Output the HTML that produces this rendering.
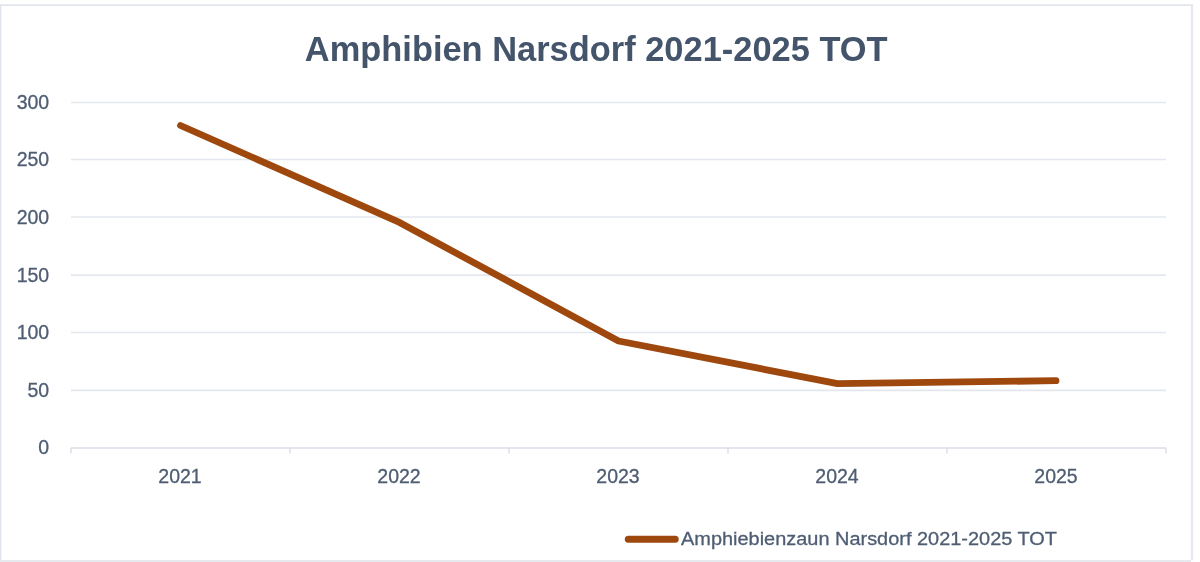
<!DOCTYPE html>
<html>
<head>
<meta charset="utf-8">
<style>
html,body{margin:0;padding:0;background:#fff;}
body{width:1200px;height:562px;overflow:hidden;}
svg{display:block;will-change:transform;}
text{font-family:"Liberation Sans",sans-serif;}
</style>
</head>
<body>
<svg width="1200" height="562" viewBox="0 0 1200 562">
  <rect x="0" y="0" width="1200" height="562" fill="#ffffff"/>
  <!-- chart border -->
  <g fill="none">
    <line x1="0" y1="5.1" x2="1193" y2="5.1" stroke="#e2e6ec" stroke-width="1.9"/>
    <line x1="0.6" y1="4.5" x2="0.6" y2="562" stroke="#dfe3ea" stroke-width="1.6"/>
    <line x1="1192" y1="4.5" x2="1192" y2="560.5" stroke="#e5e8ee" stroke-width="2.2"/>
    <line x1="0" y1="561" x2="1191" y2="561" stroke="#e6e9ee" stroke-width="2"/>
  </g>

  <!-- title -->
  <text x="304.8" y="61.3" font-size="35" font-weight="bold" fill="#44546a" textLength="582.8" lengthAdjust="spacingAndGlyphs">Amphibien Narsdorf 2021-2025 TOT</text>

  <!-- gridlines -->
  <g stroke="#e3e7ed" stroke-width="1.7" fill="none">
    <line x1="71" y1="102.5" x2="1166" y2="102.5"/>
    <line x1="71" y1="159.5" x2="1166" y2="159.5"/>
    <line x1="71" y1="217.0" x2="1166" y2="217.0"/>
    <line x1="71" y1="275.1" x2="1166" y2="275.1"/>
    <line x1="71" y1="332.5" x2="1166" y2="332.5"/>
    <line x1="71" y1="390.3" x2="1166" y2="390.3"/>
  </g>
  <!-- x axis + ticks -->
  <g stroke="#d9dee6" stroke-width="1.4" fill="none">
    <line x1="71" y1="448" x2="1166" y2="448"/>
    <line x1="71" y1="448" x2="71" y2="453.5"/>
    <line x1="290" y1="448" x2="290" y2="453.5"/>
    <line x1="509" y1="448" x2="509" y2="453.5"/>
    <line x1="728" y1="448" x2="728" y2="453.5"/>
    <line x1="947" y1="448" x2="947" y2="453.5"/>
    <line x1="1166" y1="448" x2="1166" y2="453.5"/>
  </g>

  <!-- y labels -->
  <g font-size="19.5" fill="#4f5d73" stroke="#4f5d73" stroke-width="0.3" text-anchor="end">
    <text x="49.2" y="108.8">300</text>
    <text x="49.2" y="166.4">250</text>
    <text x="49.2" y="224">200</text>
    <text x="49.2" y="281.6">150</text>
    <text x="49.2" y="339.2">100</text>
    <text x="49.2" y="396.7">50</text>
    <text x="49.2" y="454.3">0</text>
  </g>
  <!-- x labels -->
  <g font-size="19.5" fill="#4f5d73" stroke="#4f5d73" stroke-width="0.3" text-anchor="middle">
    <text x="180" y="483">2021</text>
    <text x="399" y="483">2022</text>
    <text x="618" y="483">2023</text>
    <text x="837" y="483">2024</text>
    <text x="1056" y="483">2025</text>
  </g>

  <!-- data line -->
  <polyline points="180.5,125.5 399.5,222.4 618.5,341 837.5,383.6 1056,380.7" fill="none" stroke="#9e480e" stroke-width="6.8" stroke-linecap="round" stroke-linejoin="round"/>

  <!-- legend -->
  <line x1="628.3" y1="539.2" x2="675.2" y2="539.2" stroke="#9e480e" stroke-width="7" stroke-linecap="round"/>
  <text x="681" y="545.0" font-size="18.7" fill="#4f5d73" stroke="#4f5d73" stroke-width="0.3" textLength="376" lengthAdjust="spacingAndGlyphs">Amphiebienzaun Narsdorf 2021-2025 TOT</text>
</svg>
</body>
</html>
